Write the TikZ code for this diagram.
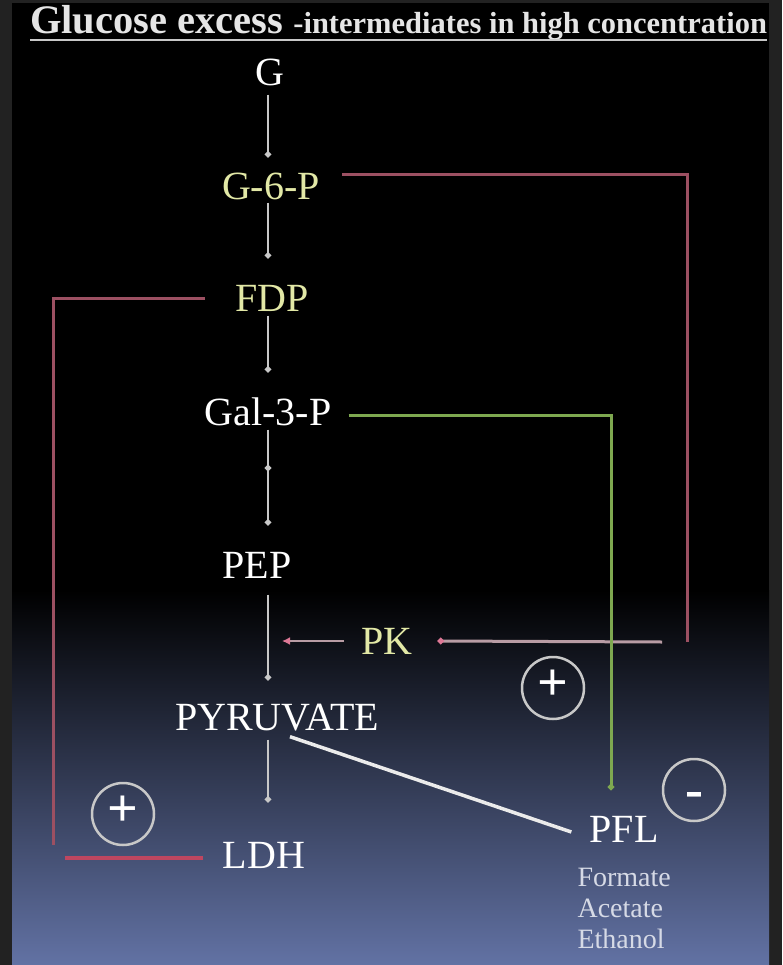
\documentclass[tikz,border=0pt]{standalone}
\usepackage{fontspec}
\setmainfont{Liberation Serif}
\usetikzlibrary{positioning}
\usetikzlibrary{arrows.meta}
\definecolor{framegray}{RGB}{34,34,34}
\definecolor{slate}{RGB}{98,114,164}
\definecolor{paleyellow}{RGB}{226,232,166}
\definecolor{pathgray}{RGB}{200,200,200}
\definecolor{fbred}{RGB}{156,80,98}
\definecolor{pkpink}{RGB}{184,156,164}
\definecolor{tippink}{RGB}{222,120,150}
\definecolor{actgreen}{RGB}{126,168,80}
\definecolor{ldhred}{RGB}{190,70,96}
\definecolor{prodgray}{RGB}{214,218,230}

\begin{document}
\begin{tikzpicture}[x=1pt,y=-1pt,
  lbl/.style={inner sep=0pt,text height=27pt,text depth=0pt,
    font=\fontsize{40}{40}\selectfont,text=white},
  enz/.style={lbl,text=paleyellow},
  prod/.style={inner sep=0pt,align=left,text=prodgray,
    font=\fontsize{28}{31}\selectfont},
  sign/.style={circle,draw=pathgray,line width=2.5pt,minimum size=62pt,
    inner sep=0pt,text height=25pt,text depth=0pt,
    font=\fontsize{54}{54}\selectfont\bfseries,text=white},
  flow/.style={draw=pathgray,line width=2.5pt,-{Circle[length=6pt]}},
  fb/.style={draw=fbred,line width=3pt},
  fbend/.style={draw=pkpink,line width=3pt,-{Circle[length=6pt,color=tippink]}},
  pkarr/.style={draw=pkpink,line width=2.5pt,
    -{Latex[length=8pt,width=8pt,color=tippink]}},
  act/.style={draw=actgreen,line width=3pt,-{Circle[length=6pt]}},
  ldharr/.style={draw=ldhred,line width=4pt},
  diag/.style={draw=white!92!black,line width=3.5pt}
]
  \useasboundingbox (0,0) rectangle (782,965);
  \fill[framegray] (0,0) rectangle (782,965);
  \fill[black] (12,3) rectangle (769,590);
  \shade[top color=black,bottom color=slate] (12,590) rectangle (769,965);

  \node[anchor=base west,inner sep=0pt,text=white!90!black,font=\bfseries]
    (title) at (30,34) {\fontsize{40.5}{41}\selectfont Glucose excess
    {\fontsize{30.5}{31}\selectfont -intermediates in high concentration}};
  \draw[pathgray,line width=2.5pt] ([yshift=-6pt]title.base west)
    -- ([yshift=-6pt]title.base east);

  \node[lbl] (G) at (270,72) {G};
  \node[enz] (G6P) at (271,186) {G-6-P};
  \node[enz] (FDP) at (272,298) {FDP};
  \node[lbl] (GAP) at (268,412) {Gal-3-P};
  \node[lbl] (PEP) at (257,565) {PEP};
  \node[enz] (PK) at (387,641) {PK};
  \node[lbl] (PYR) at (277,717) {PYRUVATE};
  \node[lbl] (LDH) at (264,855) {LDH};
  \node[lbl] (PFL) at (624,829) {PFL};
  \node[prod,below right=25pt and -12pt of PFL.south west] (prods)
    {Formate\\Acetate\\Ethanol};

  \node[sign] (pos1) at (553,688) {+};
  \node[sign] (pos2) at (123,814) {+};
  \node[sign,text height=34pt] (neg) at (694,790) {-};

  \coordinate (spine) at (268,0);
  \coordinate (mid) at (268,471);
  \coordinate (c1) at (687,642);
  \coordinate (c2) at (53,845);
  \coordinate (c3) at (65,858);
  \coordinate (c4) at (611,790);

  \draw[flow] ([yshift=-9pt]G.south -| spine) -- ([yshift=15pt]G6P.north -| spine);
  \draw[flow] ([yshift=-3pt]G6P.south -| spine) -- ([yshift=26pt]FDP.north -| spine);
  \draw[flow] ([yshift=-4pt]FDP.south -| spine) -- ([yshift=26pt]GAP.north -| spine);
  \draw[flow] ([yshift=-4pt]GAP.south -| spine) -- (mid);
  \draw[flow] (mid) -- ([yshift=26pt]PEP.north -| spine);
  \draw[flow] ([yshift=-16pt]PEP.south -| spine) -- ([yshift=23pt]PYR.north -| spine);
  \draw[flow] ([yshift=-9pt]PYR.south -| spine) -- ([yshift=39pt]LDH.north -| spine);

  \draw[fb] ([xshift=22pt,yshift=11pt]G6P.east) -| (c1);
  \draw[fbend] ([xshift=-25pt]c1) -- ([xshift=25pt]PK.east);
  \draw[pkarr] ([xshift=-17pt]PK.west) -- ([xshift=14pt]PK.west -| spine);

  \draw[fb] ([xshift=-30pt]FDP.west) -| (c2);
  \draw[ldharr] (c3) -- ([xshift=-20pt,yshift=-3pt]LDH.west);

  \draw[act] ([xshift=17pt,yshift=-3pt]GAP.east) -| (c4);
  \draw[diag] ([xshift=13pt,yshift=-6pt]PYR.south) -- ([xshift=-18pt,yshift=-3pt]PFL.west);
\end{tikzpicture}
\end{document}
